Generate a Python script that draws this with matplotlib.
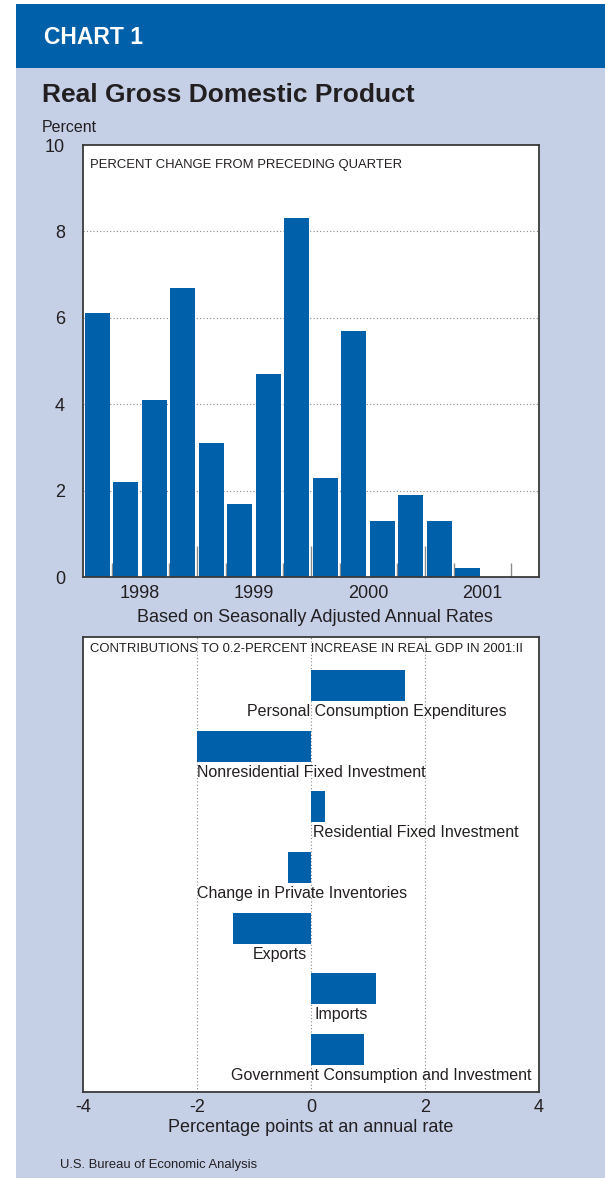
import matplotlib
matplotlib.use("Agg")
import matplotlib.pyplot as plt
from matplotlib import font_manager
from matplotlib.patches import Rectangle

# quarterly real GDP growth, 1998:I - 2001:II (percent, SAAR)
quarters = ["1998:I", "1998:II", "1998:III", "1998:IV",
            "1999:I", "1999:II", "1999:III", "1999:IV",
            "2000:I", "2000:II", "2000:III", "2000:IV",
            "2001:I", "2001:II"]
gdp_growth = [6.1, 2.2, 4.1, 6.7, 3.1, 1.7, 4.7, 8.3, 2.3, 5.7, 1.3, 1.9, 1.3, 0.2]
years = ["1998", "1999", "2000", "2001"]

# contributions to 2001:II growth (percentage points)
components = ["Personal Consumption Expenditures",
              "Nonresidential Fixed Investment",
              "Residential Fixed Investment",
              "Change in Private Inventories",
              "Exports",
              "Imports",
              "Government Consumption and Investment"]
contrib = [1.65, -2.0, 0.25, -0.41, -1.36, 1.14, 0.93]

# where each component label sits (data x, alignment)
label_x = [1.16, -2.0, 0.03, -2.0, -0.07, 0.07, 1.23]
label_ha = ["center", "left", "left", "left", "right", "left", "center"]

BLUE = "#0060AA"
PANEL = "#C5D0E7"
INK = "#231F20"
W, H = 605, 1178


def has_font(name):
    try:
        font_manager.findfont(name, fallback_to_default=False)
        return True
    except Exception:
        return False


SANS = "Liberation Sans" if has_font("Liberation Sans") else "DejaVu Sans"
NARROW = "Liberation Sans Narrow" if has_font("Liberation Sans Narrow") else None
plt.rcParams["font.family"] = [SANS, "DejaVu Sans"]


def narrow_kw(size):
    # condensed face if available, else shrink the regular one
    if NARROW:
        return dict(family=[NARROW, SANS], fontsize=size)
    return dict(family=[SANS], fontsize=size * 0.82)


def fx(x):
    return x / W


def fy(y):
    return 1 - y / H


fig = plt.figure(figsize=(W / 100, H / 100), dpi=100, facecolor="white")

# panel background and header band
fig.add_artist(Rectangle((fx(16), 0), 1 - fx(16), fy(68), transform=fig.transFigure,
                         facecolor=PANEL, edgecolor="none", zorder=0))
fig.add_artist(Rectangle((fx(16), fy(68)), 1 - fx(16), fy(4) - fy(68),
                         transform=fig.transFigure, facecolor=BLUE,
                         edgecolor="none", zorder=0))

fig.text(fx(44), fy(37), "CHART 1", color="white", fontsize=16.5,
         fontweight="bold", va="center", ha="left")
if NARROW:
    fig.text(fx(42), fy(95), "Real Gross Domestic Product", color=INK,
             family=[NARROW, SANS], fontsize=23, fontweight="bold",
             va="center", ha="left")
else:
    fig.text(fx(42), fy(95), "Real Gross Domestic Product", color=INK,
             fontsize=19, fontweight="bold", va="center", ha="left")
fig.text(fx(42), fy(127), "Percent", color=INK, fontsize=11.5,
         va="center", ha="left")

# ---- top chart: quarterly growth bars ----
ax1 = fig.add_axes([fx(83), fy(577), fx(539) - fx(83), fy(145) - fy(577)])
ax1.set_facecolor("white")
xq = list(range(len(gdp_growth)))
ax1.bar(xq, gdp_growth, width=0.86, color=BLUE, zorder=2)
ax1.set_xlim(-0.5, 15.5)
ax1.set_ylim(0, 10)
ax1.set_yticks([0, 2, 4, 6, 8, 10])
ax1.set_yticklabels(["0", "2", "4", "6", "8", "10"])
for v in [2, 4, 6, 8]:
    ax1.axhline(v, color="#8a8a8a", lw=0.8, ls=(0, (1, 2)), zorder=1)

year_centers = [1.5, 5.5, 9.5, 13.5]
ax1.set_xticks(year_centers)
ax1.set_xticklabels(years)
ax1.set_xticks([q + 0.5 for q in range(15) if (q + 1) % 4 != 0], minor=True)
ax1.tick_params(axis="x", which="major", length=0, pad=6, labelsize=13,
                labelcolor=INK)
ax1.tick_params(axis="x", which="minor", direction="in", length=10, width=1,
                color="#8a8a8a")
ax1.tick_params(axis="y", length=0, pad=13, labelsize=13, labelcolor=INK)

# longer ticks at year boundaries
sec = ax1.secondary_xaxis("bottom")
sec.set_xticks([3.5, 7.5, 11.5])
sec.set_xticklabels([])
sec.tick_params(direction="in", length=22, width=1, color="#8a8a8a")
sec.spines["bottom"].set_visible(False)

for s in ax1.spines.values():
    s.set_color("#3a3a3a")
    s.set_linewidth(1.3)
ax1.text(fx(90 - 83) * W / (539 - 83), 1 - (165 - 145) / (577 - 145),
         "PERCENT CHANGE FROM PRECEDING QUARTER", transform=ax1.transAxes,
         color=INK, va="center", ha="left", **narrow_kw(11.4))

fig.text(fx(315), fy(617), "Based on Seasonally Adjusted Annual Rates",
         color=INK, fontsize=13, ha="center", va="center")

# ---- bottom chart: contributions ----
ax2 = fig.add_axes([fx(83), fy(1092), fx(539) - fx(83), fy(637) - fy(1092)])
ax2.set_facecolor("white")
yc = list(range(len(contrib)))
ax2.barh(yc, contrib, height=0.51, color=BLUE, zorder=2)
ax2.set_xlim(-4, 4)
ax2.set_ylim(6.7, -0.8)
ax2.set_yticks([])
ax2.set_xticks([-4, -2, 0, 2, 4])
ax2.set_xticklabels(["-4", "-2", "0", "2", "4"])
ax2.tick_params(axis="x", length=0, pad=5, labelsize=13, labelcolor=INK)
for v in [-2, 0, 2]:
    ax2.axvline(v, color="#8a8a8a", lw=0.8, ls=(0, (1, 2)), zorder=1)
for s in ax2.spines.values():
    s.set_color("#3a3a3a")
    s.set_linewidth(1.3)

for i, name in enumerate(components):
    ax2.text(label_x[i], yc[i] + 0.43, name, ha=label_ha[i], va="center",
             fontsize=11.5, color=INK, zorder=3)

ax2.text((90 - 83) / (539 - 83), 1 - (649 - 637) / (1092 - 637),
         "CONTRIBUTIONS TO 0.2-PERCENT INCREASE IN REAL GDP IN 2001:II",
         transform=ax2.transAxes, color=INK, va="center", ha="left",
         zorder=3, **narrow_kw(11.4))

fig.text(fx(311), fy(1127), "Percentage points at an annual rate",
         color=INK, fontsize=13, ha="center", va="center")
fig.text(fx(60), fy(1165), "U.S. Bureau of Economic Analysis", color=INK,
         ha="left", va="center", **narrow_kw(11.4))

fig.savefig("out.png", dpi=100)
